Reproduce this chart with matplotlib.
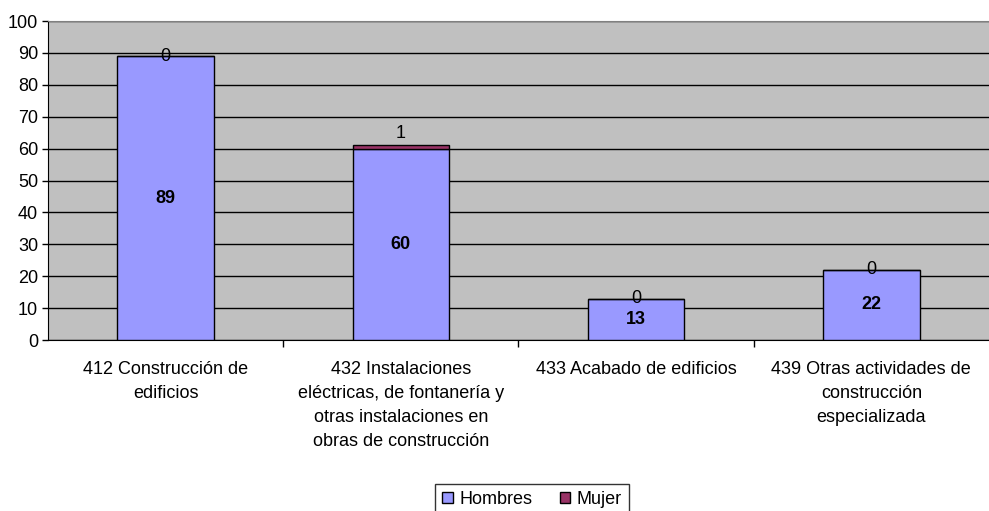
"""Empleo por actividad (CNAE) y sexo: barras apiladas Hombres / Mujer."""
import matplotlib
matplotlib.use("Agg")
import matplotlib.pyplot as plt  # noqa: E402
from matplotlib.patches import Patch  # noqa: E402

categories = [
    "412 Construcción de\nedificios",
    "432 Instalaciones\neléctricas, de fontanería y\notras instalaciones en\nobras de construcción",
    "433 Acabado de edificios",
    "439 Otras actividades de\nconstrucción\nespecializada",
]
hombres = [89, 60, 13, 22]
mujer = [0, 1, 0, 0]
yticks = list(range(0, 101, 10))

C_H, C_M, BG = "#9999FF", "#993366", "#C0C0C0"

plt.rcParams["font.family"] = ["Liberation Sans", "DejaVu Sans"]

fig = plt.figure(figsize=(9.89, 5.11), dpi=100)
ax = fig.add_axes([0.0485, 0.3346, 0.9515, 0.6243])
ax.set_facecolor(BG)

x = list(range(len(categories)))
ax.bar(x, hombres, width=0.41, color=C_H, edgecolor="black", lw=1, zorder=3)
ax.bar(x, mujer, width=0.41, bottom=hombres, color=C_M, edgecolor="black", lw=1, zorder=3)

for xi, h, m in zip(x, hombres, mujer):
    ax.text(xi, h / 2, str(h), ha="center", va="center", fontsize=13,
            fontweight="bold", zorder=4)
    if m == 0:
        ax.text(xi, h, str(m), ha="center", va="center", fontsize=13, zorder=4)
    else:
        ax.text(xi, h + m + 1, str(m), ha="center", va="bottom", fontsize=13, zorder=4)

ax.set_xlim(-0.5, len(categories) - 0.5)
ax.set_ylim(0, 100)
ax.set_yticks(yticks)
ax.yaxis.grid(True, color="black", lw=1, zorder=1)
ax.set_axisbelow(True)
ax.tick_params(axis="y", labelsize=13, length=4, width=1, direction="out", pad=3)

# category ticks sit between groups, labels in the middle
ax.set_xticks([i + 0.5 for i in x[:-1]])
ax.set_xticklabels([])
ax.set_xticks(x, minor=True)
ax.set_xticklabels(categories, minor=True, fontsize=13, linespacing=1.55)
ax.tick_params(axis="x", which="major", length=5, width=1, direction="out")
ax.tick_params(axis="x", which="minor", length=0, pad=15)

for side in ("left", "bottom"):
    ax.spines[side].set_color("black")
ax.spines["top"].set_color("#808080")
ax.spines["right"].set_visible(False)

handles = [Patch(facecolor=C_H, edgecolor="black", label="Hombres"),
           Patch(facecolor=C_M, edgecolor="black", label="Mujer")]
fig.legend(handles=handles, loc="upper center", bbox_to_anchor=(0.538, 0.071), ncol=2,
           frameon=True, fancybox=False, edgecolor="black", fontsize=13,
           handlelength=0.6, handleheight=0.6, handletextpad=0.35, columnspacing=1.5,
           borderpad=0.4)

fig.savefig("out.png", dpi=100)
